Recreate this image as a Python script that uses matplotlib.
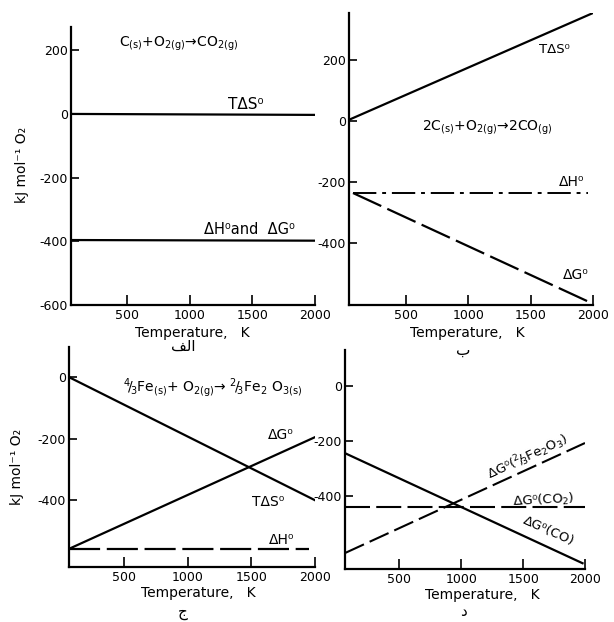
import matplotlib
matplotlib.use("Agg")
import matplotlib.pyplot as plt

plt.rcParams['font.family'] = ['DejaVu Sans']
plt.rcParams['axes.unicode_minus'] = False
plt.rcParams['mathtext.default'] = 'regular'

# panel a : C + O2 -> CO2
T_a = [50, 2000]
TdS_a = [0, -3]
dH_a = [-396, -398]

# panel b : 2C + O2 -> 2CO
T_b_s = [43, 2000]
TdS_b = [5, 355]
T_b_h = [75, 1960]
dH_b = [-235, -235]
T_b_g = [75, 2000]
dG_b = [-235, -598]

# panel c : 4/3Fe + O2 -> 2/3Fe2O3
T_c = [70, 2000]
TdS_c = [0, -400]
dG_c = [-558, -195]
T_c_h = [70, 1950]
dH_c = [-558, -558]

# panel d : comparison
T_d = [60, 1980]
dG_CO = [-244, -644]
T_d2 = [60, 2000]
dG_CO2 = [-440, -440]
dG_Fe = [-607, -207]

xticks = [500, 1000, 1500, 2000]

fig = plt.figure(figsize=(6.14, 6.22), dpi=100)
W, H = 614, 622


def make_ax(l, r, t, b):
    ax = fig.add_axes([l / W, 1 - b / H, (r - l) / W, (b - t) / H])
    ax.spines['top'].set_visible(False)
    ax.spines['right'].set_visible(False)
    ax.spines['left'].set_linewidth(1.6)
    ax.spines['bottom'].set_linewidth(1.6)
    ax.tick_params(axis='y', direction='in', length=6, width=1.2, pad=2, labelsize=9)
    ax.tick_params(axis='x', direction='in', length=7, width=1.2, pad=3, labelsize=9)
    ax.set_xticks(xticks)
    return ax


# a
ax = make_ax(71, 315, 27, 305)
ax.plot(T_a, TdS_a, color='black', lw=1.6)
ax.plot(T_a, dH_a, color='black', lw=1.6)
ax.set_xlim(50, 2000)
ax.set_ylim(-600, 273)
ax.set_yticks([-600, -400, -200, 0, 200])
ax.text(907, 220, r"C$_{(s)}$+O$_{2(g)}$→CO$_{2(g)}$", fontsize=10, ha='center', va='center')
ax.text(1446, 30, "TΔS⁰", fontsize=11, ha='center', va='center')
ax.text(1474, -363, "ΔH⁰and  ΔG⁰", fontsize=10.5, ha='center', va='center')

# b
ax = make_ax(349, 593, 13, 305)
ax.plot(T_b_s, TdS_b, color='black', lw=1.6)
ax.plot(T_b_h, dH_b, color='black', lw=1.4, ls=(0, (12, 3, 2, 3)))
ax.plot(T_b_g, dG_b, color='black', lw=1.6, ls=(0, (14, 3)))
ax.set_xlim(43, 2000)
ax.set_ylim(-602, 355)
ax.set_yticks([-400, -200, 0, 200])
ax.text(1687, 234, "TΔS⁰", fontsize=9.5, ha='center', va='center')
ax.text(1150, -22, r"2C$_{(s)}$+O$_{2(g)}$→2CO$_{(g)}$", fontsize=10, ha='center', va='center')
ax.text(1831, -199, "ΔH⁰", fontsize=10, ha='center', va='center')
ax.text(1863, -504, "ΔG⁰", fontsize=10, ha='center', va='center')

# c
ax = make_ax(69, 315, 347, 567)
ax.plot(T_c, TdS_c, color='black', lw=1.6)
ax.plot(T_c, dG_c, color='black', lw=1.6)
ax.plot(T_c_h, dH_c, color='black', lw=1.6, ls=(0, (14, 3)))
ax.set_xlim(70, 2000)
ax.set_ylim(-617, 98)
ax.set_yticks([-400, -200, 0])
ax.text(1199, -35, r"$^{4}\!/\!_{3}$Fe$_{(s)}$+ O$_{2(g)}$→ $^{2}\!/\!_{3}$Fe$_{2}$ O$_{3(s)}$",
        fontsize=10, ha='center', va='center')
ax.text(1735, -188, "ΔG⁰", fontsize=10, ha='center', va='center')
ax.text(1633, -406, "TΔS⁰", fontsize=10, ha='center', va='center')
ax.text(1735, -529, "ΔH⁰", fontsize=10, ha='center', va='center')

# d
ax = make_ax(345, 585, 350, 569)
ax.plot(T_d, dG_CO, color='black', lw=1.6)
ax.plot(T_d2, dG_CO2, color='black', lw=1.5, ls=(0, (12, 3)))
ax.plot(T_d2, dG_Fe, color='black', lw=1.5, ls=(0, (10, 3)))
ax.set_xlim(60, 2000)
ax.set_ylim(-665, 131)
ax.set_yticks([-400, -200, 0])
ax.text(1540, -258, r"ΔG⁰($^{2}\!/\!_{3}$Fe$_{2}$O$_{3}$)", fontsize=9.5, ha='center', va='center', rotation=25)
ax.text(1661, -415, r"ΔG⁰(CO$_{2}$)", fontsize=9.5, ha='center', va='center', rotation=3)
ax.text(1703, -527, "ΔG⁰(CO)", fontsize=9.5, ha='center', va='center', rotation=-24)

# axis labels and panel letters
fig.text(22 / W, 1 - 165 / H, "kJ mol⁻¹ O₂", rotation=90, fontsize=10, ha='center', va='center')
fig.text(17 / W, 1 - 467 / H, "kJ mol⁻¹ O₂", rotation=90, fontsize=10, ha='center', va='center')
for x, y in [(192, 333), (467, 333), (198, 593), (482, 595)]:
    fig.text(x / W, 1 - y / H, "Temperature,   K", fontsize=10, ha='center', va='center')
for x, y, s in [(183, 346, "ﻒﻟﺍ"), (463, 350, "ب"), (183, 612, "ج"), (463, 612, "د")]:
    fig.text(x / W, 1 - y / H, s, fontsize=11, ha='center', va='center')

fig.savefig("out.png", dpi=100)
